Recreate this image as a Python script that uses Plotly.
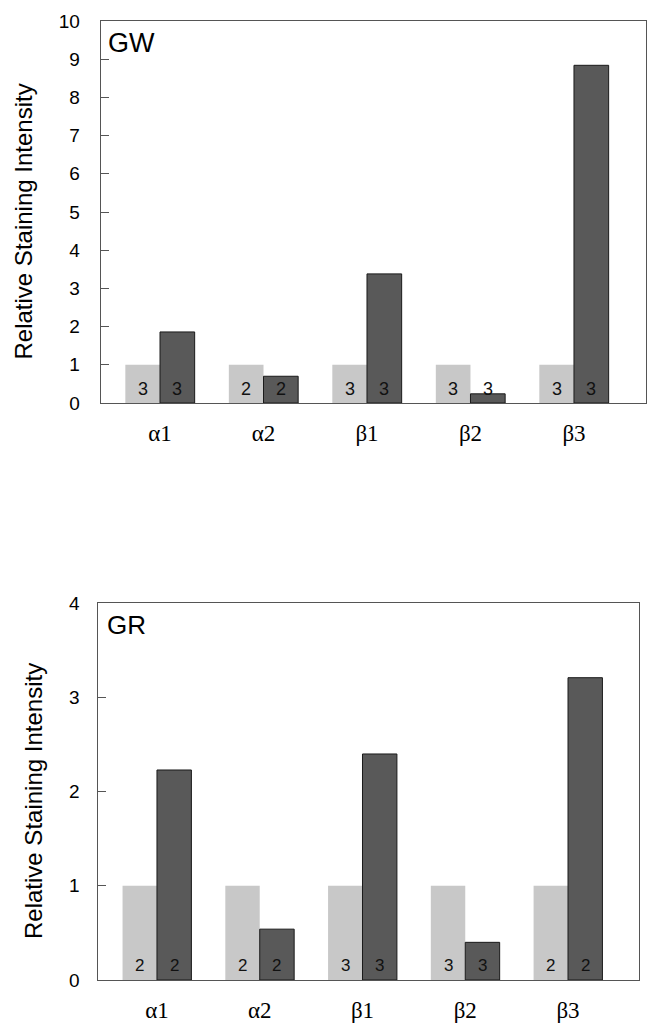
import plotly.graph_objects as go

# ---------------- data ----------------
categories = ["α1", "α2", "β1", "β2", "β3"]

gw_control = [1, 1, 1, 1, 1]
gw_treated = [1.86, 0.70, 3.38, 0.24, 8.84]
gw_n_control = [3, 2, 3, 3, 3]
gw_n_treated = [3, 2, 3, 3, 3]

gr_control = [1, 1, 1, 1, 1]
gr_treated = [2.23, 0.54, 2.40, 0.40, 3.21]
gr_n_control = [2, 2, 3, 3, 2]
gr_n_treated = [2, 2, 3, 3, 2]

gw_yticks = list(range(0, 11))
gr_yticks = [0, 1, 2, 3, 4]

y_title = "Relative Staining Intensity"

# ---------------- layout helpers ----------------
# The page body has an 8px margin, so the figure is drawn 8px in from the window edge.
OFF = 8
W, H = 666 - OFF, 1032 - OFF
def px(x):
    return (x - OFF) / W
def py(y):
    return 1 - (y - OFF) / H

LIGHT = "#c8c8c8"
DARK = "#595959"
BW = 0.335
xs = list(range(len(categories)))

fig = go.Figure()

panels = [
    ("GW", gw_control, gw_treated, gw_n_control, gw_n_treated, "", 0.37, 18),
    ("GR", gr_control, gr_treated, gr_n_control, gr_n_treated, "2", 0.15, 17),
]

for name, ctrl, trt, nc, nt, ax, ly, fs in panels:
    fig.add_trace(go.Bar(
        x=xs, y=ctrl, width=BW, offset=-BW,
        marker=dict(color=LIGHT, line=dict(width=0)),
        xaxis="x" + ax, yaxis="y" + ax, showlegend=False, hoverinfo="skip"))
    fig.add_trace(go.Bar(
        x=xs, y=trt, width=BW, offset=0,
        marker=dict(color=DARK, line=dict(color="#1a1a1a", width=1)),
        xaxis="x" + ax, yaxis="y" + ax, showlegend=False, hoverinfo="skip"))
    xref = "x" + ax
    yref = "y" + ax
    for i in xs:
        fig.add_annotation(x=i - BW / 2, y=ly, xref=xref, yref=yref,
                           text=str(nc[i]), showarrow=False,
                           font=dict(family="Liberation Sans", size=fs, color="#111"))
        fig.add_annotation(x=i + BW / 2, y=ly, xref=xref, yref=yref,
                           text=str(nt[i]), showarrow=False,
                           font=dict(family="Liberation Sans", size=fs, color="#111"))

axis_common = dict(showgrid=False, zeroline=False, showline=True, mirror=True,
                   linecolor="#555", linewidth=1, automargin=False)

fig.update_layout(
    template="none",
    width=W, height=H,
    margin=dict(l=0, r=0, t=0, b=0, pad=0),
    paper_bgcolor="white", plot_bgcolor="white",
    barmode="overlay",
    xaxis=dict(**axis_common, domain=[px(100.7), px(645.7)], anchor="y",
               range=[-0.573, 4.693], tickvals=xs, ticktext=categories, ticks="",
               tickfont=dict(family="Liberation Serif", size=23, color="black"),
               ticklabelstandoff=9),
    yaxis=dict(**axis_common, domain=[py(403), py(21)], anchor="x",
               range=[0, 10], tickvals=gw_yticks, ticks="inside", ticklen=8,
               tickcolor="#555", tickfont=dict(family="Liberation Sans", size=19, color="black"),
               ticklabelstandoff=16),
    xaxis2=dict(**axis_common, domain=[px(98.3), px(638.7)], anchor="y2",
                range=[-0.571, 4.688], tickvals=xs, ticktext=categories, ticks="",
                tickfont=dict(family="Liberation Serif", size=23, color="black"),
                ticklabelstandoff=9),
    yaxis2=dict(**axis_common, domain=[py(980), py(603.3)], anchor="x2",
                range=[0, 4], tickvals=gr_yticks, ticks="inside", ticklen=8,
                tickcolor="#555", tickfont=dict(family="Liberation Sans", size=19, color="black"),
                ticklabelstandoff=14),
)

# panel labels
fig.add_annotation(x=px(106), y=py(42.5), xref="paper", yref="paper", text="GW",
                   showarrow=False, xanchor="left", yanchor="middle",
                   font=dict(family="Liberation Sans", size=27, color="black"))
fig.add_annotation(x=px(105), y=py(624.5), xref="paper", yref="paper", text="GR",
                   showarrow=False, xanchor="left", yanchor="middle",
                   font=dict(family="Liberation Sans", size=26, color="black"))

# y-axis titles
fig.add_annotation(x=px(23), y=py(221.5), xref="paper", yref="paper", text=y_title,
                   showarrow=False, textangle=-90, xanchor="center", yanchor="middle",
                   font=dict(family="Liberation Sans", size=24, color="black"))
fig.add_annotation(x=px(33), y=py(801), xref="paper", yref="paper", text=y_title,
                   showarrow=False, textangle=-90, xanchor="center", yanchor="middle",
                   font=dict(family="Liberation Sans", size=24, color="black"))

fig.write_html("out.html")
